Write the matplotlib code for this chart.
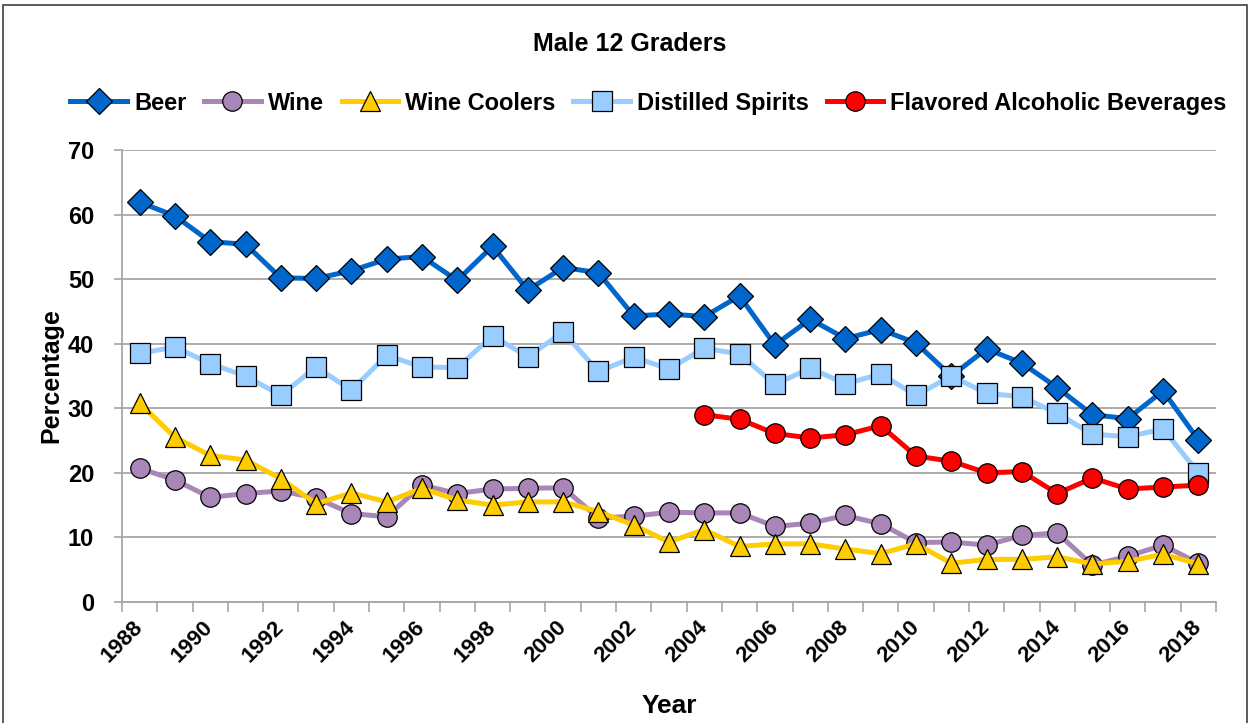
import matplotlib
matplotlib.use("Agg")
import matplotlib.pyplot as plt
from matplotlib.patches import Rectangle
from matplotlib.ticker import FixedLocator

years = list(range(1988, 2019))

beer = [61.9, 59.8, 55.8, 55.4, 50.2, 50.1, 51.3, 53.1, 53.5, 49.8, 55.1,
        48.3, 51.8, 51.0, 44.3, 44.6, 44.2, 47.4, 39.8, 43.8, 40.8, 42.2,
        40.1, 35.0, 39.2, 37.0, 33.2, 29.0, 28.4, 32.7, 25.1]
wine = [20.7, 18.9, 16.2, 16.8, 17.2, 16.1, 13.7, 13.2, 18.1, 16.8, 17.5,
        17.6, 17.7, 13.0, 13.3, 13.9, 13.8, 13.8, 11.7, 12.2, 13.4, 12.1,
        9.2, 9.3, 8.8, 10.3, 10.7, 5.7, 7.1, 8.8, 6.0]
wine_coolers = [30.8, 25.5, 22.7, 22.0, 19.1, 15.2, 16.9, 15.5, 17.6, 15.8, 15.0,
                15.5, 15.5, 14.0, 11.9, 9.3, 11.2, 8.6, 9.0, 9.0, 8.2, 7.5,
                9.0, 6.0, 6.6, 6.6, 7.0, 5.9, 6.3, 7.4, 5.9]
spirits = [38.5, 39.5, 36.9, 35.0, 32.0, 36.4, 32.8, 38.2, 36.4, 36.3, 41.2,
           38.0, 41.8, 35.7, 37.9, 36.1, 39.3, 38.4, 33.7, 36.2, 33.8, 35.3,
           32.0, 35.0, 32.3, 31.8, 29.2, 26.0, 25.6, 26.8, 20.0]
fab_years = list(range(2004, 2019))
fab = [29.0, 28.3, 26.1, 25.4, 25.9, 27.3, 22.6, 21.8, 20.0, 20.2, 16.8,
       19.2, 17.5, 17.8, 18.1]

plt.rcParams['font.family'] = ['Liberation Sans', 'DejaVu Sans']
plt.rcParams['font.weight'] = 'bold'

fig = plt.figure(figsize=(12.52, 7.23), dpi=100)
ax = fig.add_axes([122 / 1252, 1 - 602 / 723, (1216 - 122) / 1252, (602 - 150) / 723])

lw = 3.6
ax.plot(years, beer, color='#0066CC', lw=lw, marker='D', ms=13,
        mfc='#0066CC', mec='black', mew=0.9, label='Beer', zorder=3)
ax.plot(years, wine, color='#A886B8', lw=lw, marker='o', ms=14,
        mfc='#A886B8', mec='black', mew=0.9, label='Wine', zorder=4)
ax.plot(years, wine_coolers, color='#FFCC00', lw=lw, marker='^', ms=15,
        mfc='#FFCC00', mec='black', mew=0.9, label='Wine Coolers', zorder=5)
ax.plot(years, spirits, color='#99CCFF', lw=lw, marker='s', ms=15,
        mfc='#99CCFF', mec='black', mew=0.9, label='Distilled Spirits', zorder=6)
ax.plot(fab_years, fab, color='#FF0000', lw=lw, marker='o', ms=14,
        mfc='#FF0000', mec='black', mew=0.9, label='Flavored Alcoholic Beverages', zorder=7)

ax.set_ylim(0, 70)
ax.set_xlim(1987.5, 2018.5)
ax.set_yticks(range(0, 71, 10))
ax.yaxis.grid(True, color='#A6A6A6', lw=1.3)
ax.set_axisbelow(True)

ax.set_xticks(years[::2])
ax.xaxis.set_minor_locator(FixedLocator([y - 0.5 for y in years] + [2018.5]))
ax.tick_params(axis='x', which='major', length=0, pad=16, labelsize=16)
ax.tick_params(axis='x', which='minor', length=7, width=1.2, color='#A6A6A6', direction='out')
ax.tick_params(axis='y', length=6, width=1.2, color='#A6A6A6', labelsize=17, pad=14)
for lab in ax.get_xticklabels():
    lab.set_rotation(45)
    lab.set_ha('right')
    lab.set_va('center')
    lab.set_rotation_mode('anchor')
    lab.set_fontweight('bold')
for lab in ax.get_yticklabels():
    lab.set_fontweight('bold')

for s in ['top', 'right']:
    ax.spines[s].set_visible(False)
for s in ['left', 'bottom']:
    ax.spines[s].set_color('#A6A6A6')
    ax.spines[s].set_linewidth(1.3)

ax.set_ylabel('Percentage', fontsize=18, fontweight='bold', labelpad=3)
ax.set_xlabel('Year', fontsize=19, fontweight='bold', labelpad=20)

fig.text(0.503, 0.939, 'Male 12 Graders', ha='center', va='center',
         fontsize=18, fontweight='bold')

fig.legend(loc='center', bbox_to_anchor=(0.518, 0.8575), ncol=5, frameon=False,
           handlelength=2.4, columnspacing=0.75, handletextpad=0.3,
           prop={'weight': 'bold', 'size': 17})

fig.patches.append(Rectangle((3 / 1252, -0.02), 1244 / 1252, 1.02 - 5 / 723,
                             transform=fig.transFigure, fill=False,
                             edgecolor='#404040', lw=1.2))

fig.savefig('out.png', dpi=100)
